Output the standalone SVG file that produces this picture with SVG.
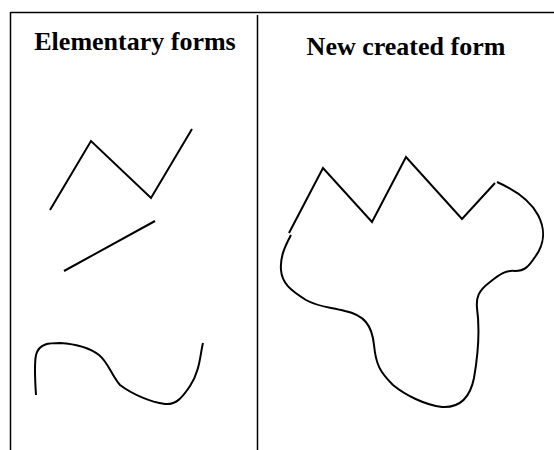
<svg xmlns="http://www.w3.org/2000/svg" width="554" height="450" viewBox="0 0 554 450">
<style>
.frame{stroke:#000;stroke-width:1.5;fill:none}
.sh{stroke:#000;stroke-width:2;fill:none;stroke-linejoin:miter;stroke-linecap:butt}
.t{font-family:"Liberation Serif","Times New Roman",serif;font-weight:bold;font-size:26px;fill:#000;text-anchor:middle}
</style>
<rect width="554" height="450" fill="#fff"/>
<g id="frame">
<line class="frame" x1="10.5" y1="12.5" x2="554" y2="12.5"/>
<line class="frame" x1="10.5" y1="12" x2="10.5" y2="450"/>
<line class="frame" x1="257.5" y1="15" x2="257.5" y2="450"/>
</g>
<g id="title-left"><text class="t" x="135" y="50">Elementary forms</text></g>
<g id="title-right"><text class="t" x="406" y="55">New created form</text></g>
<g id="elementary-forms">
<polyline class="sh" points="50,210 91,141 151,198 192,129"/>
<line class="sh" x1="64" y1="271" x2="155" y2="221"/>
<path class="sh" d="M36,395 C35,380 34,365 36,355 C39,343 50,343 60,343 C75,344 90,348 99,355 C108,362 112,376 120,385 C132,394 150,402 165,404 C176,405 182,398 190,386 C200,371 200,355 203,343"/>
</g>
<g id="new-form">
<polyline class="sh" points="289,233 323,168 372,222 406,157 462,219 495,183"/>
<path class="sh" d="M497,182 C515,190 530,200 538,215 C546,230 544,245 535,257 C529,266 525,271 515,271 C506,270 500,274 490,282 C478,291 476,298 477,308 C480,330 478,355 474,378 C470,398 460,408 442,407 C425,405 405,395 393,385 C380,372 376,365 374,345 C372,325 364,315 345,311 C330,307 318,307 306,300 C290,290 282,283 281,270 C280,258 284,248 291,235"/>
</g>
</svg>
